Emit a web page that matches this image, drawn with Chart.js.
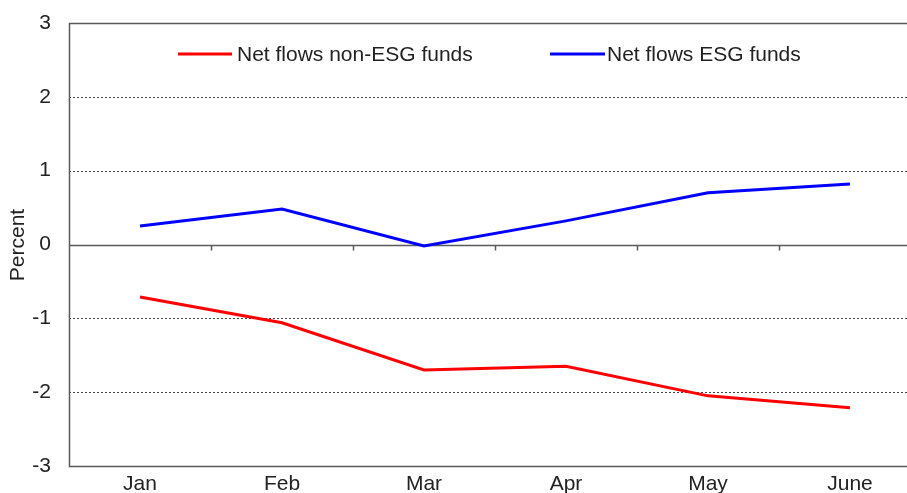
<!DOCTYPE html>
<html>
<head>
<meta charset="utf-8">
<script src="https://cdn.jsdelivr.net/npm/chart.js@4/dist/chart.umd.min.js"></script>
<style>
html,body{margin:0;padding:0;background:#fff;overflow:hidden;}
#wrap{position:relative;width:925px;height:493px;}
</style>
</head>
<body>
<div id="wrap"><canvas id="c" width="925" height="493"></canvas></div>
<script>
const categories = ["Jan", "Feb", "Mar", "Apr", "May", "June"];
const nonEsgFlows = [-0.71, -1.06, -1.70, -1.65, -2.05, -2.21];
const esgFlows = [0.25, 0.48, -0.02, 0.32, 0.70, 0.82];
const yTicks = [3, 2, 1, 0, -1, -2, -3];
const seriesLabels = ["Net flows non-ESG funds", "Net flows ESG funds"];
const yTitle = "Percent";

const FONT = "'Liberation Sans', Arial, sans-serif";
const AXIS = "#5a5a5a";

const framePlugin = {
  id: 'frame',
  beforeDatasetsDraw(chart) {
    const {ctx, chartArea: a, scales: {x, y}} = chart;
    ctx.save();
    ctx.lineWidth = 1;
    yTicks.forEach(v => {
      if (v === 0 || v === 3 || v === -3) return;
      const py = Math.round(y.getPixelForValue(v)) + 0.5;
      ctx.strokeStyle = "#444";
      ctx.setLineDash([2, 2]);
      ctx.beginPath(); ctx.moveTo(a.left, py); ctx.lineTo(a.right, py); ctx.stroke();
    });
    ctx.setLineDash([]);
    ctx.strokeStyle = AXIS;
    ctx.lineWidth = 1.5;
    const top = Math.round(y.getPixelForValue(3)) + 0.5;
    const bot = Math.round(y.getPixelForValue(-3)) + 0.5;
    const zero = Math.round(y.getPixelForValue(0)) + 0.5;
    const lx = Math.round(a.left) + 0.5;
    ctx.beginPath();
    ctx.moveTo(a.right, top); ctx.lineTo(lx, top); ctx.lineTo(lx, bot); ctx.lineTo(a.right, bot);
    ctx.moveTo(lx, zero); ctx.lineTo(a.right, zero);
    ctx.stroke();
    for (let i = 1; i < categories.length; i++) {
      const px = Math.round((x.getPixelForValue(i - 1) + x.getPixelForValue(i)) / 2) + 0.5;
      ctx.beginPath(); ctx.moveTo(px, zero); ctx.lineTo(px, zero + 5); ctx.stroke();
    }
    ctx.fillStyle = "#222";
    ctx.font = "21px " + FONT;
    ctx.textAlign = "center";
    ctx.textBaseline = "middle";
    ctx.translate(18, 245);
    ctx.rotate(-Math.PI / 2);
    ctx.fillText(yTitle, 0, 0);
    ctx.restore();
  },
  afterDatasetsDraw(chart) {
    const {ctx} = chart;
    ctx.save();
    ctx.font = "21px " + FONT;
    ctx.textBaseline = "middle";
    ctx.textAlign = "left";
    ctx.lineWidth = 3;
    const items = [
      {x1: 178, x2: 232, tx: 237, color: chart.data.datasets[0].borderColor, label: chart.data.datasets[0].label},
      {x1: 550, x2: 605, tx: 607, color: chart.data.datasets[1].borderColor, label: chart.data.datasets[1].label}
    ];
    const ly = 54;
    items.forEach(it => {
      ctx.strokeStyle = it.color;
      ctx.beginPath(); ctx.moveTo(it.x1, ly); ctx.lineTo(it.x2, ly); ctx.stroke();
      ctx.fillStyle = "#222";
      ctx.fillText(it.label, it.tx, ly + 1);
    });
    ctx.restore();
  }
};

new Chart(document.getElementById('c'), {
  type: 'line',
  data: {
    labels: categories,
    datasets: [
      {label: seriesLabels[0], data: nonEsgFlows, borderColor: '#ff0000', borderWidth: 3, pointRadius: 0, tension: 0, fill: false},
      {label: seriesLabels[1], data: esgFlows, borderColor: '#0000ff', borderWidth: 3, pointRadius: 0, tension: 0, fill: false}
    ]
  },
  options: {
    responsive: false,
    animation: false,
    layout: {padding: {top: 23, right: 4, left: 0, bottom: 0}},
    plugins: {legend: {display: false}, tooltip: {enabled: false}},
    scales: {
      x: {
        offset: true,
        grid: {display: false, drawTicks: false},
        border: {display: false},
        ticks: {color: '#222', font: {family: FONT, size: 21}, padding: 6, maxRotation: 0, autoSkip: false},
        afterFit(s) { s.height = 27; s.paddingLeft = 0; s.paddingRight = 0; }
      },
      y: {
        min: -3, max: 3,
        grid: {display: false, drawTicks: false},
        border: {display: false},
        afterBuildTicks(s) { s.ticks = yTicks.map(v => ({value: v})); },
        ticks: {color: '#222', font: {family: FONT, size: 21}, padding: 18},
        afterFit(s) { s.width = 69; s.paddingTop = 0; s.paddingBottom = 0; }
      }
    }
  },
  plugins: [framePlugin]
});
</script>
</body>
</html>
